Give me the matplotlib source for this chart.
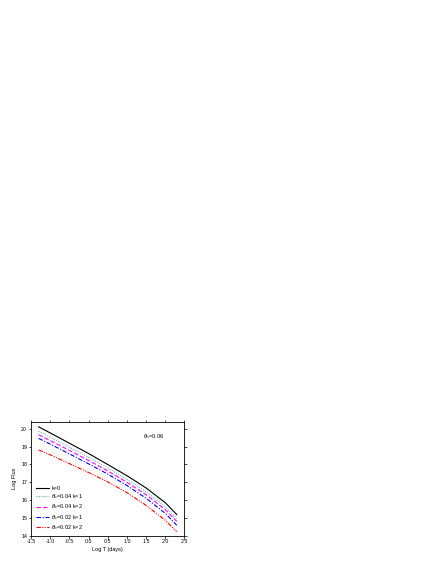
import numpy as np
import matplotlib.pyplot as plt

log_t = [-1.3, -1.0, -0.5, 0.0, 0.5, 1.0, 1.5, 2.0, 2.3]
flux_k0 = [20.12, 19.78, 19.2, 18.62, 18.0, 17.37, 16.68, 15.85, 15.18]
flux_004_k1 = [19.88, 19.54, 18.98, 18.4, 17.8, 17.16, 16.46, 15.62, 14.95]
flux_004_k2 = [19.68, 19.35, 18.8, 18.23, 17.64, 17.0, 16.3, 15.46, 14.8]
flux_002_k1 = [19.47, 19.15, 18.6, 18.04, 17.46, 16.82, 16.1, 15.25, 14.58]
flux_002_k2 = [18.82, 18.55, 18.05, 17.55, 17.02, 16.42, 15.7, 14.86, 14.22]

labels = ['k=0', r'$\theta_c$=0.04 k=1', r'$\theta_c$=0.04 k=2',
          r'$\theta_c$=0.02 k=1', r'$\theta_c$=0.02 k=2']
xticks = [-1.5, -1.0, -0.5, 0.0, 0.5, 1.0, 1.5, 2.0, 2.5]
yticks = [14, 15, 16, 17, 18, 19, 20]

plt.rcParams['font.family'] = ['Liberation Sans', 'DejaVu Sans']
plt.rcParams['mathtext.fontset'] = 'dejavusans'

fig = plt.figure(figsize=(4.36, 5.64), dpi=100)
ax = fig.add_axes([0.071, 0.0505, 0.352, 0.2018])

ax.plot(log_t, flux_k0, color='black', lw=0.8, ls='-', label=labels[0])
ax.plot(log_t, flux_004_k1, color='#55bbbb', lw=0.8, ls=(0, (1, 1.2)), label=labels[1])
ax.plot(log_t, flux_004_k2, color='#ff00ff', lw=0.8, ls=(0, (4, 2)), label=labels[2])
ax.plot(log_t, flux_002_k1, color='#0000ff', lw=0.8, ls=(0, (4, 1.5, 1, 1.5)), label=labels[3])
ax.plot(log_t, flux_002_k2, color='#ff0000', lw=0.8, ls=(0, (4, 1.2, 1, 1.2, 1, 1.2)), label=labels[4])

ax.set_xlim(-1.5, 2.5)
ax.set_ylim(14, 20.41)
ax.set_xticks(xticks)
ax.set_xticklabels(['%.1f' % v for v in xticks])
ax.set_yticks(yticks)
ax.tick_params(axis='both', which='major', labelsize=3.8, direction='out',
               length=1.8, width=0.5, pad=1)
ax.tick_params(top=True, right=True)
for sp in ax.spines.values():
    sp.set_linewidth(0.6)

ax.set_xlabel('Log T (days)', fontsize=4, labelpad=2)
ax.set_ylabel('Log Flux', fontsize=4, labelpad=3)

ax.text(1.42, 19.5, r'$\theta_c$=0.06', fontsize=4)

ax.legend(loc='lower left', bbox_to_anchor=(0.01, 0.0), frameon=False,
          fontsize=4, handlelength=2.2, handletextpad=0.5,
          labelspacing=0.22, borderaxespad=0.3)

fig.savefig('out.png', dpi=100)
